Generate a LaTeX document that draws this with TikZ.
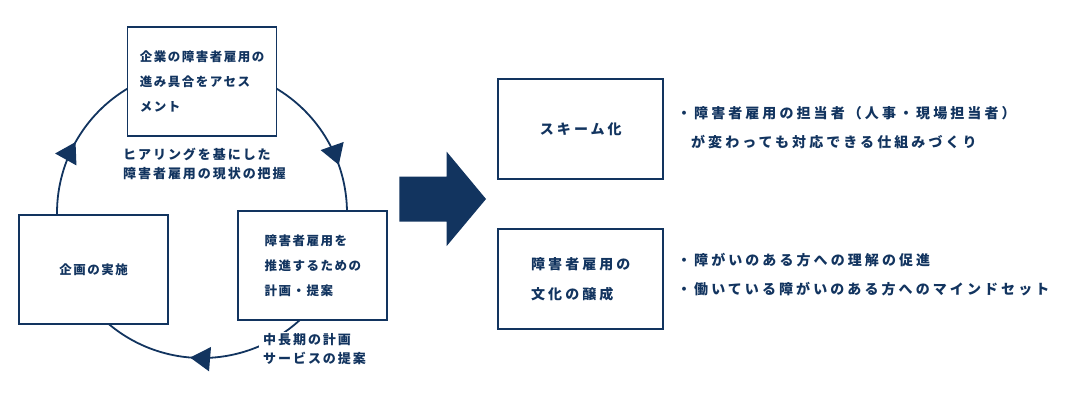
\documentclass[tikz,border=0pt]{standalone}
\usepackage{fontspec}
\usepackage{tikz}
\usetikzlibrary{arrows.meta,positioning,calc,decorations.markings}
\newfontfamily\jpbox{Noto Sans CJK JP}[LetterSpace=12]
\newfontfamily\jplabel{Noto Sans CJK JP}[LetterSpace=15]
\newfontfamily\jpwide{Noto Sans CJK JP}[LetterSpace=22]
\definecolor{DeepNavy}{HTML}{12345F}

\tikzset{
  stepbox/.style={draw=DeepNavy,line width=1.8pt,fill=white,text=DeepNavy,
    align=left,inner sep=0pt,minimum width=149pt,minimum height=109pt,
    font=\jpbox\bfseries\fontsize{12.5}{25}\selectfont},
  resultbox/.style={stepbox,minimum width=165pt,minimum height=100pt,
    font=\jpwide\bfseries\fontsize{14}{30}\selectfont},
  cyclabel/.style={anchor=west,align=left,text=DeepNavy,fill=white,
    inner xsep=4pt,inner ysep=2pt,
    font=\jplabel\bfseries\fontsize{13}{19}\selectfont},
  bullets/.style={anchor=west,align=left,text=DeepNavy,inner sep=0pt,
    font=\jpwide\bfseries\fontsize{14}{28.5}\selectfont},
  cycarc/.style={draw=DeepNavy,line width=1.8pt,postaction={decorate},
    decoration={markings,mark=at position #1 with
      {\arrow{Triangle[length=20pt,width=24pt]}}}},
}

\begin{document}
\begin{tikzpicture}[x=1pt,y=1pt]
  \useasboundingbox (0,0) rectangle (1075,-408);
  \coordinate (ctr) at (202,-213);

  % cycle
  \draw[cycarc=0.505] ([shift={(182:145pt)}]ctr) arc[start angle=182,end angle=120,radius=145pt];
  \draw[cycarc=0.677] ([shift={(60:145pt)}]ctr) arc[start angle=60,end angle=0,radius=145pt];
  \draw[cycarc=0.568] ([shift={(-47:145pt)}]ctr) arc[start angle=-47,end angle=-131,radius=145pt];

  \node[stepbox] (assess) at (202,-81.3) {企業の障害者雇用の\\進み具合をアセス\\メント};
  \node[stepbox] (plan) at (312.8,-265.3) {障害者雇用を\\推進するための\\計画・提案};
  \node[stepbox] (act) at (93.5,-269.5) {企画の実施};

  \node[cyclabel] (grasp) at (119,-163.5) {ヒアリングを基にした\\障害者雇用の現状の把握};
  \node[cyclabel] (propose) at (259,-349.5) {中長期の計画\\サービスの提案};

  % big arrow
  \fill[DeepNavy] (399.3,-176.7) -- (446.7,-176.7) -- (446.7,-151.7) -- (486,-199)
    -- (446.7,-246) -- (446.7,-221.7) -- (399.3,-221.7) -- cycle;

  \node[resultbox] (scheme) at (580.8,-129.3) {スキーム化};
  \node[resultbox] (culture) at (580.8,-279.2) {障害者雇用の\\文化の醸成};

  \node[bullets,right=12.7pt of scheme,yshift=1.8pt] (schemenote)
    {・障害者雇用の担当者（人事・現場担当者）\\\phantom{・}が変わっても対応できる仕組みづくり};
  \node[bullets,right=12.7pt of culture,yshift=4.5pt] (culturenote)
    {・障がいのある方への理解の促進\\・働いている障がいのある方へのマインドセット};
\end{tikzpicture}
\end{document}
